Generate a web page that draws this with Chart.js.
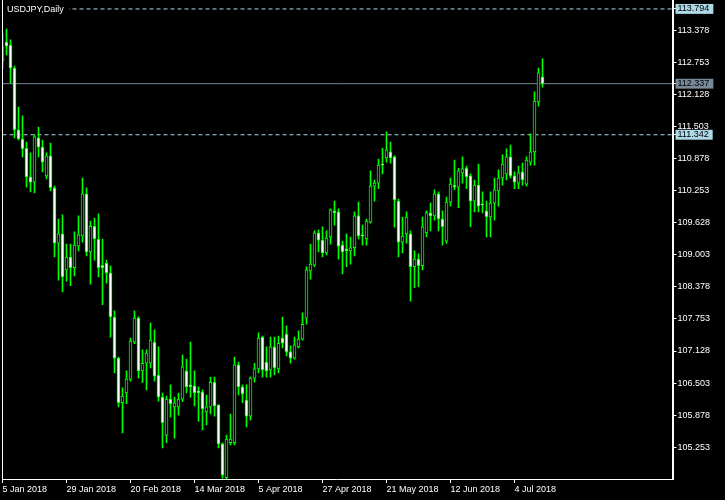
<!DOCTYPE html>
<html>
<head>
<meta charset="utf-8">
<script src="https://cdn.jsdelivr.net/npm/chart.js@4.4.0/dist/chart.umd.min.js"></script>
<style>
  html, body { margin: 0; padding: 0; background: #000; }
  canvas { display: block; background: #000; }
</style>
</head>
<body>
<canvas id="myChart" width="725" height="500"></canvas>
<script>
const SYMBOL = 'USDJPY,Daily';

const COLORS = {
  candle: '#00ff00',
  bull: '#000000',
  bear: '#ffffff',
  frame: '#ffffff',
  level: '#add8e6',
  bid: '#778899'
};

// time axis: bar index of each date label
const tickDates = ['5 Jan 2018', '29 Jan 2018', '20 Feb 2018', '14 Mar 2018', '5 Apr 2018',
  '27 Apr 2018', '21 May 2018', '12 Jun 2018', '4 Jul 2018'];
const tickBars = [0, 16, 32, 48, 64, 80, 96, 112, 128];

// price axis
const priceTicks = [113.378, 112.753, 112.128, 111.503, 110.878, 110.253, 109.628,
  109.003, 108.378, 107.753, 107.128, 106.503, 105.878, 105.253];
// 113.794 / 111.342 dashed levels, 112.337 bid line
const levels = [113.794, 112.337, 111.342];

// daily OHLC, 5 Jan 2018 .. 13 Jul 2018
const opens = [
  112.78, 113.15, 113.09, 112.64, 111.44, 111.26, 111.08, 110.52, 110.42, 111.28,
  111.10, 110.54, 110.93, 110.31, 109.23, 109.41, 108.71, 108.96, 108.75, 109.17,
  109.37, 110.19, 109.06, 109.56, 109.31, 108.80, 108.84, 108.65, 107.79, 106.99,
  106.12, 106.31, 106.58, 107.30, 107.77, 106.74, 106.89, 106.89, 107.30, 106.66,
  106.23, 105.49, 106.19, 106.04, 106.04, 106.19, 106.74, 106.47, 106.45, 106.35,
  106.33, 105.94, 106.04, 106.52, 106.08, 105.32, 104.66, 105.34, 105.34, 106.86,
  106.43, 106.17, 105.86, 106.60, 106.78, 107.40, 106.91, 106.76, 107.21, 106.78,
  107.38, 107.46, 107.11, 106.99, 107.21, 107.36, 107.77, 108.69, 108.80, 109.43,
  109.29, 109.04, 109.35, 109.86, 109.84, 109.19, 109.12, 109.08, 109.14, 109.76,
  109.39, 109.31, 109.64, 110.34, 110.40, 110.77, 110.89, 111.01, 110.91, 110.05,
  109.25, 109.41, 109.41, 108.77, 108.92, 108.79, 109.43, 109.82, 109.76, 110.19,
  109.70, 109.27, 110.03, 110.36, 110.32, 110.60, 110.69, 110.54, 110.05, 110.36,
  109.99, 109.86, 109.74, 110.01, 110.25, 110.50, 110.58, 110.91, 110.54, 110.40,
  110.62, 110.38, 110.81, 111.01, 111.98, 112.47
];
const highs = [
  113.31, 113.40, 113.19, 112.68, 111.88, 111.71, 111.20, 110.99, 111.34, 111.49,
  111.24, 110.99, 111.18, 110.34, 109.70, 109.78, 109.21, 109.21, 109.45, 109.76,
  110.50, 110.31, 109.66, 109.72, 109.80, 109.31, 108.90, 108.79, 107.91, 107.01,
  106.41, 106.74, 107.38, 107.91, 107.80, 107.15, 107.15, 107.67, 107.54, 107.21,
  106.31, 106.25, 106.47, 106.23, 106.31, 107.05, 106.97, 107.30, 106.74, 106.43,
  106.37, 106.27, 106.62, 106.62, 106.08, 105.34, 105.49, 105.90, 107.01, 106.91,
  106.47, 106.47, 106.62, 106.89, 107.48, 107.42, 107.21, 107.40, 107.40, 107.42,
  107.79, 107.62, 107.23, 107.40, 107.52, 107.87, 108.77, 109.21, 109.47, 109.49,
  109.55, 109.47, 109.90, 110.05, 109.90, 109.27, 109.41, 109.35, 109.84, 110.03,
  109.58, 109.70, 110.64, 110.46, 110.87, 111.08, 111.40, 111.20, 110.93, 110.09,
  109.74, 109.84, 109.47, 109.08, 109.02, 109.74, 109.86, 110.01, 110.27, 110.23,
  109.86, 110.13, 110.50, 110.85, 110.69, 110.91, 110.73, 110.58, 110.46, 110.77,
  110.23, 110.05, 110.23, 110.50, 110.66, 110.95, 111.07, 111.14, 110.62, 110.73,
  110.79, 110.91, 111.36, 112.18, 112.64, 112.82
];
const lows = [
  112.62, 112.90, 112.35, 111.28, 111.24, 110.91, 110.32, 110.23, 110.21, 110.91,
  110.62, 110.48, 110.25, 108.96, 108.51, 108.28, 108.49, 108.40, 108.59, 109.08,
  109.25, 108.98, 108.43, 108.90, 108.57, 108.03, 108.45, 107.40, 106.70, 106.04,
  105.53, 106.10, 106.54, 107.27, 106.60, 106.51, 106.37, 106.80, 106.54, 106.15,
  105.24, 105.34, 105.84, 105.43, 105.88, 106.14, 106.31, 106.23, 106.06, 105.76,
  105.59, 105.69, 105.90, 105.86, 105.24, 104.65, 104.63, 105.30, 105.30, 106.27,
  106.12, 105.65, 105.78, 106.52, 106.70, 106.62, 106.62, 106.62, 106.66, 106.70,
  107.19, 107.03, 106.89, 106.97, 107.19, 107.34, 107.65, 108.53, 108.77, 109.06,
  108.96, 109.00, 109.21, 109.58, 108.92, 108.63, 108.77, 108.82, 108.98, 109.31,
  109.19, 109.19, 109.62, 110.05, 110.29, 110.58, 110.81, 110.79, 109.54, 108.96,
  109.04, 109.23, 108.10, 108.36, 108.38, 108.71, 109.35, 109.47, 109.68, 109.47,
  109.19, 109.23, 109.95, 110.27, 109.92, 110.40, 110.29, 109.55, 109.84, 109.84,
  109.82, 109.35, 109.35, 109.68, 109.95, 110.36, 110.46, 110.50, 110.29, 110.29,
  110.36, 110.34, 110.75, 110.75, 111.90, 112.27
];
const closes = [
  113.05, 113.07, 112.64, 111.44, 111.26, 111.07, 110.52, 110.42, 111.30, 111.10,
  110.81, 110.93, 110.31, 109.23, 109.41, 108.57, 108.96, 108.75, 109.19, 109.39,
  110.19, 109.06, 109.56, 109.31, 108.75, 108.75, 108.65, 107.79, 106.99, 106.12,
  106.25, 106.58, 107.32, 107.77, 106.74, 106.89, 107.09, 107.34, 106.64, 106.23,
  105.73, 106.19, 106.10, 106.12, 106.19, 106.82, 106.43, 106.43, 106.31, 106.31,
  106.00, 106.04, 106.52, 106.06, 105.32, 104.71, 105.41, 105.41, 106.86, 106.43,
  106.29, 105.86, 106.60, 106.78, 107.38, 106.76, 106.74, 107.21, 106.80, 107.28,
  107.28, 107.11, 106.99, 107.25, 107.36, 107.65, 108.71, 108.82, 109.43, 109.29,
  109.04, 109.33, 109.88, 109.82, 109.17, 109.06, 109.08, 109.14, 109.76, 109.37,
  109.37, 109.66, 110.34, 110.40, 110.75, 110.75, 111.05, 110.89, 110.07, 109.25,
  109.37, 109.74, 108.77, 108.92, 108.79, 109.55, 109.82, 109.76, 110.19, 109.70,
  109.55, 110.03, 110.38, 110.32, 110.64, 110.68, 110.52, 110.05, 110.36, 109.95,
  109.97, 109.74, 110.01, 110.27, 110.50, 110.77, 110.91, 110.54, 110.42, 110.60,
  110.46, 110.85, 111.01, 112.00, 112.55, 112.337
];

const X_MAX = 167.5;   // empty bars kept to the right of the last candle
const Y_MIN = 104.634;
const Y_MAX = 113.968;

Chart.defaults.font.family = '"Liberation Sans", Arial, sans-serif';
Chart.defaults.font.size = 9;

const isLevel = (ctx) => ctx.tick && levels.includes(ctx.tick.value);

// stop the axes from pushing the plot area in for their end labels
const noAxisPadding = (s) => {
  s.paddingTop = 0;
  s.paddingBottom = 0;
  s.paddingLeft = 0;
  s.paddingRight = 0;
};

const symbolTitle = {
  id: 'symbolTitle',
  afterDatasetsDraw(chart) {
    const ctx = chart.ctx;
    ctx.save();
    ctx.fillStyle = '#000';
    ctx.fillRect(3, 3, 66, 12);
    ctx.fillStyle = '#fff';
    ctx.font = '9px "Liberation Sans", Arial, sans-serif';
    ctx.textBaseline = 'middle';
    ctx.fillText(SYMBOL, 7, 9.5);
    ctx.restore();
  }
};

const levelLines = levels.map((v, k) => ({
  type: 'line',
  data: [{x: 0, y: v}, {x: X_MAX, y: v}],
  borderColor: k === 1 ? COLORS.bid : COLORS.level,
  borderDash: k === 1 ? [] : [4, 3],
  borderWidth: 1,
  pointRadius: 0,
  xAxisID: 'x',
  yAxisID: 'y',
  order: 3
}));

let ctx = document.getElementById('myChart');

let myChart = new Chart(ctx, {
  type: 'bar',
  plugins: [symbolTitle],
  data: {
    datasets: [{
      // candle bodies
      data: opens.map((o, i) => ({x: i, y: [o, closes[i]]})),
      backgroundColor: opens.map((o, i) => closes[i] < o ? COLORS.bear : COLORS.bull),
      borderColor: COLORS.candle,
      borderWidth: 1,
      borderSkipped: false,
      barThickness: 3,
      maxBarThickness: 3,
      minBarLength: 1,
      grouped: false,
      xAxisID: 'x',
      yAxisID: 'y',
      order: 1
    }, {
      // wicks
      data: lows.map((l, i) => ({x: i, y: [l, highs[i]]})),
      backgroundColor: COLORS.candle,
      borderWidth: 0,
      barThickness: 1,
      maxBarThickness: 1,
      grouped: false,
      xAxisID: 'x',
      yAxisID: 'y',
      order: 2
    }, ...levelLines]
  },
  options: {
    responsive: false,
    animation: false,
    devicePixelRatio: 1,
    layout: { padding: { left: 2.5, top: 0, right: 0, bottom: 0 } },
    plugins: {
      legend: { display: false },
      tooltip: { enabled: false }
    },
    scales: {
      x: {
        type: 'linear',
        min: 0,
        max: X_MAX,
        bounds: 'data',
        offset: false,
        afterFit: (s) => { s.height = 21; noAxisPadding(s); },
        afterBuildTicks: (s) => { s.ticks = tickBars.map(v => ({value: v})); },
        grid: { drawOnChartArea: false, offset: false, color: COLORS.frame, tickLength: 4 },
        border: { color: COLORS.frame, width: 1, z: 1 },
        ticks: {
          color: '#fff',
          align: 'start',
          maxRotation: 0,
          autoSkip: false,
          padding: 1,
          callback: (v) => tickDates[tickBars.indexOf(v)]
        }
      },
      y: {
        type: 'linear',
        position: 'right',
        min: Y_MIN,
        max: Y_MAX,
        bounds: 'data',
        afterFit: (s) => { s.width = 52.5; noAxisPadding(s); },
        afterBuildTicks: (s) => { s.ticks = priceTicks.concat(levels).map(v => ({value: v})); },
        grid: { drawOnChartArea: false, color: COLORS.frame, tickLength: 4 },
        border: { color: COLORS.frame, width: 2, z: 1 },
        ticks: {
          autoSkip: false,
          padding: 1,
          color: (c) => isLevel(c) ? '#000' : '#fff',
          showLabelBackdrop: (c) => isLevel(c),
          backdropColor: (c) => c.tick && c.tick.value === levels[1] ? COLORS.bid : COLORS.level,
          backdropPadding: { left: 2, right: 4, top: 0, bottom: 0 },
          font: { size: 9, lineHeight: 1.1 },
          callback: (v) => v.toFixed(3)
        }
      },
      frameLeft: {
        type: 'linear',
        position: 'left',
        afterFit: (s) => { s.width = 0; noAxisPadding(s); },
        ticks: { display: false },
        grid: { drawOnChartArea: false, drawTicks: false },
        border: { color: COLORS.frame, width: 1, z: 1 }
      }
    }
  }
});

console.log("Loaded chart");
</script>
</body>
</html>
